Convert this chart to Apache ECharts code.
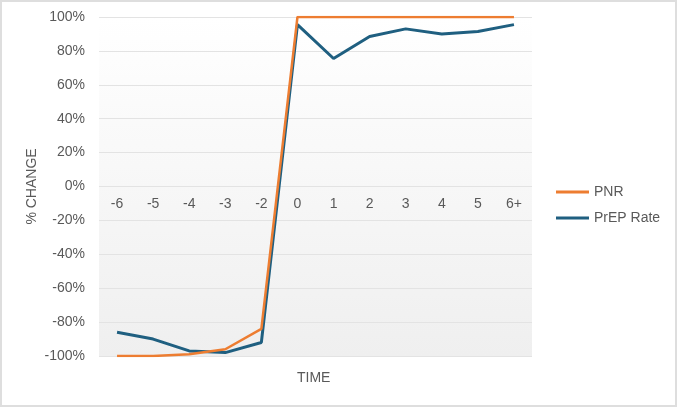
<!DOCTYPE html>
<html>
<head>
	<meta charset="utf-8">
	<title>PNR vs PrEP Rate</title>
	<script src="https://cdn.jsdelivr.net/npm/echarts@6/dist/echarts.min.js"></script>
	<style>
		body { margin: 0; }
		#echart { width: 677px; height: 407px; }
	</style>
</head>
<body>
	<div id="echart"></div>
	<script>
		// data
		let timeLabels = ['-6', '-5', '-4', '-3', '-2', '0', '1', '2', '3', '4', '5', '6+'];
		let pnrValues = [-100, -100, -99, -96, -84, 100, 100, 100, 100, 100, 100, 100];
		let prepValues = [-86, -90, -97, -98, -92, 95.5, 75.5, 88.5, 93, 90, 91.5, 95.5];
		let yTicks = [-100, -80, -60, -40, -20, 0, 20, 40, 60, 80, 100];

		let mychart = echarts.init(document.getElementById('echart'));
		let labelColor = '#595959';
		let fontSize = 14;
		let gridTop = 17, gridBottom = 51;
		let plotHeight = 407 - gridTop - gridBottom;
		let option = {
			backgroundColor: '#fff',
			textStyle: { fontFamily: 'Liberation Sans, Arial, sans-serif' },
			title: {
				text: 'TIME',
				left: 297, top: 371,
				padding: 0,
				textStyle: { color: labelColor, fontSize: fontSize, fontWeight: 'normal' }
			},
			graphic: [{
				type: 'rect',
				shape: { x: 1, y: 1, width: 675, height: 405 },
				style: { fill: 'none', stroke: '#dedede', lineWidth: 2 },
				silent: true
			}],
			grid: {
				left: 99, right: 145, top: gridTop, bottom: gridBottom,
				show: true,
				borderWidth: 0,
				backgroundColor: {
					type: 'linear', x: 0, y: 0, x2: 0, y2: 1,
					colorStops: [{ offset: 0, color: '#ffffff' }, { offset: 1, color: '#efefef' }]
				}
			},
			legend: {
				orient: 'vertical',
				left: 556, top: 185,
				padding: 0,
				icon: 'rect',
				itemWidth: 33, itemHeight: 3,
				itemGap: 12,
				textStyle: { color: labelColor, fontSize: fontSize },
				data: ['PNR', 'PrEP Rate']
			},
			xAxis: {
				type: 'category',
				data: timeLabels,
				boundaryGap: true,
				position: 'bottom',
				// labels sit on the 0% line, halfway up the plot
				offset: -plotHeight / 2,
				axisLine: { show: false, onZero: false },
				axisTick: { show: false },
				axisLabel: { color: labelColor, fontSize: fontSize, margin: 11 },
				splitLine: { show: false }
			},
			yAxis: {
				type: 'value',
				min: yTicks[0],
				max: yTicks[yTicks.length - 1],
				interval: 20,
				name: '% CHANGE',
				nameLocation: 'middle',
				nameGap: 60,
				nameMoveOverlap: false,
				nameTextStyle: { color: labelColor, fontSize: fontSize },
				axisLine: { show: false },
				axisTick: { show: false },
				axisLabel: { color: labelColor, fontSize: fontSize, margin: 14, formatter: '{value}%' },
				splitLine: { lineStyle: { color: '#e3e3e3', width: 1 } }
			},
			series: [{
				name: 'PNR',
				type: 'line',
				data: pnrValues,
				symbol: 'none',
				color: '#ed7d31',
				lineStyle: { width: 2.5, color: '#ed7d31' },
				z: 3
			}, {
				name: 'PrEP Rate',
				type: 'line',
				data: prepValues,
				symbol: 'none',
				color: '#1f5f80',
				lineStyle: { width: 3, color: '#1f5f80' },
				z: 2
			}]
		};
		mychart.setOption(option);
	</script>
</body>
</html>
